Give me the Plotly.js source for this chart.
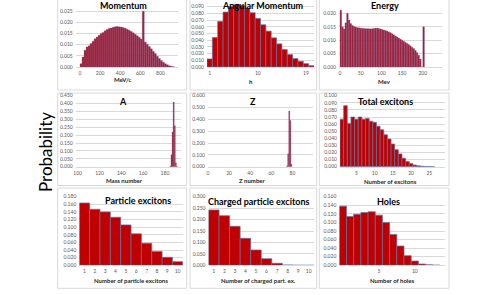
<!DOCTYPE html>
<html><head><meta charset="utf-8">
<script src="https://cdn.plot.ly/plotly-3.0.1.min.js"></script>
<style>html,body{margin:0;padding:0;background:#fff}#chart{width:499px;height:295px}</style>
</head><body><div id="chart"></div>
<script>
// ---------------- DATA ----------------
const momentumBinWidth = 20; // MeV/c
const momentumValues = [0.0015,0.0045,0.0075,0.0090,0.0095,0.0105,0.0115,0.0126,0.0134,0.0142,
  0.0150,0.0155,0.0162,0.0168,0.0172,0.0175,0.0178,0.0180,0.0181,0.0180,
  0.0179,0.0177,0.0173,0.0169,0.0164,0.0159,0.0153,0.0147,0.0140,0.0133,
  0.0125,0.0250,0.0112,0.0102,0.0092,0.0082,0.0071,0.0060,0.0048,0.0038,
  0.0029,0.0021,0.0015,0.0010,0.0006,0.0003,0.0001];

const angularMomentum = [1,2,3,4,5,6,7,8,9,10,11,12,13,14,15,16,17,18,19,20];
const angularValues = [0.012,0.044,0.068,0.082,0.090,0.093,0.092,0.088,0.081,0.0725,
  0.063,0.0535,0.0435,0.0345,0.026,0.0185,0.0125,0.0085,0.005,0.002];
const angularTicks = [1,10,19];

const energyBinWidth = 4; // MeV
const energyValues = [0.0212,0.0150,0.0142,0.0165,0.0200,0.0175,0.0162,0.0155,0.0151,0.0149,
  0.0147,0.0146,0.0145,0.0144,0.0144,0.0143,0.0143,0.0143,0.0142,0.0143,
  0.0144,0.0145,0.0145,0.0144,0.0142,0.0140,0.0138,0.0136,0.0134,0.0131,
  0.0128,0.0124,0.0120,0.0116,0.0112,0.0108,0.0104,0.0100,0.0096,0.0092,
  0.0088,0.0084,0.0079,0.0074,0.0069,0.0062,0.0054,0.0044,0.0030,0.0000,
  0.0150];

const massNumbers = [185,186,187,188,189,190,191];
const massValues = [0.005,0.075,0.22,0.41,0.26,0.025,0.003];

const zNumbers = [75,76,77,78,79];
const zValues = [0.008,0.11,0.47,0.39,0.02];

const totalExcitons = [1,2,3,4,5,6,7,8,9,10,11,12,13,14,15,16,17,18,19,20,21,22,23,24,25,26];
const totalValues = [0.067,0.086,0.061,0.070,0.067,0.070,0.067,0.068,0.064,0.0625,
  0.057,0.052,0.045,0.039,0.032,0.024,0.018,0.012,0.0073,0.0044,
  0.0024,0.0013,0.0007,0.0003,0.0002,0.0001];
const totalTicks = [5,10,15,20,25];

const particleExcitons = [1,2,3,4,5,6,7,8,9,10];
const particleValues = [0.1635,0.147,0.140,0.126,0.106,0.0826,0.058,0.0365,0.021,0.0096];

const chargedExcitons = [1,2,3,4,5,6,7,8,9,10];
const chargedValues = [0.242,0.217,0.1705,0.118,0.067,0.029,0.0087,0.0015,0.0002,0.0];

const holes = [0,1,2,3,4,5,6,7,8,9,10,11,12,13];
const holesValues = [0.138,0.114,0.119,0.123,0.125,0.117,0.100,0.072,0.045,0.0225,0.010,0.003,0.001,0.0003];
const holesTicks = [5,10];

const panelTitles = ['Momentum','Angular Momentum','Energy','A','Z','Total excitons',
  'Particle excitons','Charged particle excitons','Holes'];
const axisTitles = ['MeV/c','h','Mev','Mass number','Z number','Number of excitons',
  'Number of particle excitons','Number of charged part. ex.','Number of holes'];
const yTitle = 'Probability';

// ---------------- LAYOUT HELPERS ----------------
const W = 499, H = 295;
const px = x => x / W;
const py = y => 1 - y / H;
const F = 'Lato, "Liberation Sans", sans-serif';

const momentumX = momentumValues.map((v, i) => (i + 0.5) * momentumBinWidth);
const energyX = energyValues.map((v, i) => (i + 0.5) * energyBinWidth);

const denseStyle = {color: '#A11D34', line: {color: '#7A5A8E', width: 0.3}};
const sparseStyle = {color: '#C00000', line: {color: '#5575A8', width: 0.7}};

function bar(x, y, n, style, width) {
  const t = {type: 'bar', x: x, y: y, marker: style, hoverinfo: 'skip',
    xaxis: 'x' + (n === 1 ? '' : n), yaxis: 'y' + (n === 1 ? '' : n)};
  if (width) t.width = width;
  return t;
}

const data = [
  bar(momentumX, momentumValues, 1, denseStyle, momentumBinWidth),
  bar(angularMomentum, angularValues, 2, sparseStyle, 1),
  bar(energyX, energyValues, 3, denseStyle, energyBinWidth),
  bar(massNumbers, massValues, 4, denseStyle, 1),
  bar(zNumbers, zValues, 5, denseStyle, 1),
  bar(totalExcitons, totalValues, 6, sparseStyle, 1),
  bar(particleExcitons, particleValues, 7, sparseStyle, 1),
  bar(chargedExcitons, chargedValues, 8, sparseStyle, 1),
  bar(holes, holesValues, 9, sparseStyle, 1)
];

const tickFont = {family: F, size: 5, color: '#595959'};
function xa(n, d0, d1, range, extra) {
  return Object.assign({anchor: 'y' + (n === 1 ? '' : n), domain: [px(d0), px(d1)], range: range,
    showgrid: false, zeroline: false, showline: true, linecolor: '#D9D9D9', linewidth: 1,
    ticks: '', tickfont: tickFont, fixedrange: true, ticklabelstandoff: 1}, extra || {});
}
function ya(n, top, bottom, range, dtick) {
  return {anchor: 'x' + (n === 1 ? '' : n), domain: [py(bottom), py(top)], range: range,
    dtick: dtick, tick0: 0, tickformat: '.3f', showgrid: true, gridcolor: '#D9D9D9', gridwidth: 1,
    zeroline: false, showline: false, ticks: '', tickfont: tickFont, fixedrange: true, ticklabelstandoff: 2};
}

const R1 = [0, 67], R2 = [95.7, 166.7], R3 = [196.7, 265.3];

const layout = {
  width: W, height: H, margin: {l: 0, r: 0, t: 0, b: 0},
  paper_bgcolor: '#FFFFFF', plot_bgcolor: '#FFFFFF', showlegend: false, bargap: 0,
  font: {family: F},
  xaxis: xa(1, 75.7, 178, [-43, 976], {dtick: 200, tick0: 0}),
  yaxis: ya(1, R1[0], R1[1], [0, 0.030], 0.005),
  xaxis2: xa(2, 207, 314, [0.5, 20.5], {tickvals: angularTicks}),
  yaxis2: ya(2, R1[0], R1[1], [0, 0.100], 0.01),
  xaxis3: xa(3, 339, 442, [-2.4, 246.4], {dtick: 50, tick0: 0}),
  yaxis3: ya(3, R1[0], R1[1], [0, 0.025], 0.005),
  xaxis4: xa(4, 75.7, 181, [98.2, 194.7], {dtick: 20, tick0: 100}),
  yaxis4: ya(4, R2[0], R2[1], [0, 0.45], 0.05),
  xaxis5: xa(5, 208, 313, [0, 99.5], {dtick: 20, tick0: 0}),
  yaxis5: ya(5, R2[0], R2[1], [0, 0.6], 0.1),
  xaxis6: xa(6, 340, 445, [0.5, 29.3], {tickvals: totalTicks}),
  yaxis6: ya(6, R2[0], R2[1], [0, 0.1], 0.01),
  xaxis7: xa(7, 79.3, 182.8, [0.5, 10.5], {dtick: 1, tick0: 1}),
  yaxis7: ya(7, R3[0], R3[1], [0, 0.18], 0.02),
  xaxis8: xa(8, 208.5, 314, [0.5, 10.5], {dtick: 1, tick0: 1}),
  yaxis8: ya(8, R3[0], R3[1], [0, 0.3], 0.05),
  xaxis9: xa(9, 339.3, 445, [-0.5, 14.2], {tickvals: holesTicks}),
  yaxis9: ya(9, R3[0], R3[1], [0, 0.16], 0.02),
  shapes: [],
  annotations: []
};

// panel borders
const cols = [[57.7, 186.7], [190, 316.7], [319.3, 449]];
const rows = [[-3, 90], [93, 185.5], [188, 288.3]];
rows.forEach(r => cols.forEach(c => {
  layout.shapes.push({type: 'rect', xref: 'paper', yref: 'paper', x0: px(c[0]), x1: px(c[1]),
    y0: py(r[1]), y1: py(r[0]), line: {color: '#D9D9D9', width: 1}, fillcolor: 'rgba(0,0,0,0)', layer: 'below'});
}));

const titlePos = [[123, 5.8], [263, 5.8], [385, 5.8], [123.3, 101.7], [253.3, 101.7], [385, 101.7],
  [137.7, 200.7], [258.3, 201.3], [388, 201.3]];
const axisTitlePos = [[123, 80], [251, 81.5], [384, 81.5], [125, 180.7], [251.7, 180.7], [390, 181],
  [131, 280], [258, 280], [392, 280.5]];

panelTitles.forEach((t, i) => layout.annotations.push({text: '<b>' + t + '</b>', xref: 'paper', yref: 'paper',
  x: px(titlePos[i][0]), y: py(titlePos[i][1]), xanchor: 'center', yanchor: 'middle', showarrow: false,
  font: {family: F, size: 9, color: '#000000'}}));
axisTitles.forEach((t, i) => layout.annotations.push({text: '<b>' + t + '</b>', xref: 'paper', yref: 'paper',
  x: px(axisTitlePos[i][0]), y: py(axisTitlePos[i][1]), xanchor: 'center', yanchor: 'middle', showarrow: false,
  font: {family: F, size: 6, color: '#262626'}}));
layout.annotations.push({text: yTitle, xref: 'paper', yref: 'paper', x: px(45), y: py(152),
  xanchor: 'center', yanchor: 'middle', textangle: -90, showarrow: false,
  font: {family: F, size: 17, color: '#000000'}});

Plotly.newPlot('chart', data, layout, {staticPlot: true, displayModeBar: false});
</script>
</body></html>
